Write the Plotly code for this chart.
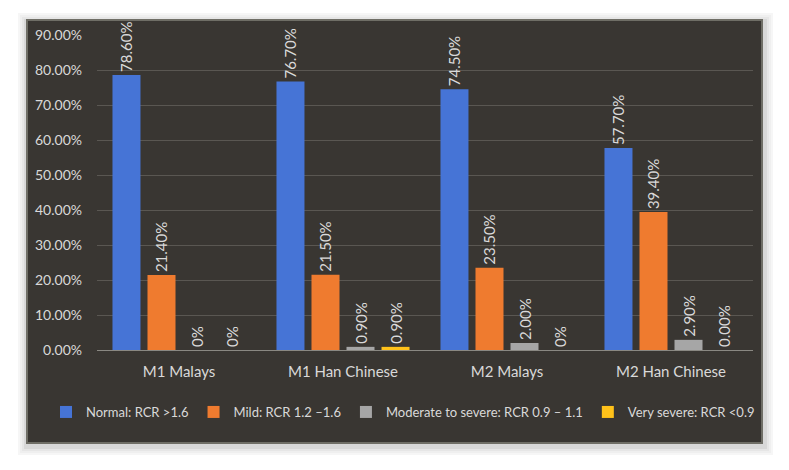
import plotly.graph_objects as go

categories = ["M1 Malays", "M1 Han Chinese", "M2 Malays", "M2 Han Chinese"]
series_names = ["Normal: RCR >1.6", "Mild: RCR 1.2 \u20131.6",
                "Moderate to severe: RCR 0.9 \u2013 1.1", "Very severe: RCR <0.9"]
normal = [0.786, 0.767, 0.745, 0.577]
mild = [0.214, 0.215, 0.235, 0.394]
moderate = [0.0, 0.009, 0.020, 0.029]
very_severe = [0.0, 0.009, 0.0, 0.0]
normal_labels = ["78.60%", "76.70%", "74.50%", "57.70%"]
mild_labels = ["21.40%", "21.50%", "23.50%", "39.40%"]
moderate_labels = ["0%", "0.90%", "2.00%", "2.90%"]
very_severe_labels = ["0%", "0.90%", "0%", "0.00%"]
colors = ["#4674d6", "#ef7b2f", "#a6a6a6", "#ffc21a"]
y_ticks = [0, 0.1, 0.2, 0.3, 0.4, 0.5, 0.6, 0.7, 0.8, 0.9]

FONT = "Lato"
TXT = "#d9d9d9"

fig = go.Figure()
for name, vals, labs, col in zip(series_names,
                                 [normal, mild, moderate, very_severe],
                                 [normal_labels, mild_labels, moderate_labels, very_severe_labels],
                                 colors):
    fig.add_trace(go.Bar(
        x=categories, y=vals, name=name, marker=dict(color=col, line=dict(width=0)),
        text=labs, textposition="outside", textangle=-90,
        textfont=dict(family=FONT, size=15, color=TXT),
        cliponaxis=False, constraintext="none",
    ))

shapes = []
# soft shadow layers
for i, (dx, c) in enumerate([(9, "#f6f6f6"), (7, "#efefef"), (5, "#e6e6e6"), (3, "#d8d8d8")]):
    shapes.append(dict(type="rect", xref="paper", yref="paper", layer="below",
                       x0=(27 - dx - 97) / 656, x1=(762 + dx + 2 - 97) / 656,
                       y0=(350 - 443 - dx - 3) / 315, y1=(350 - 20 + dx - 2) / 315,
                       fillcolor=c, line=dict(width=0)))
shapes.append(dict(type="rect", xref="paper", yref="paper", layer="below",
                   x0=(27 - 97) / 656, x1=(762 - 97) / 656,
                   y0=(350 - 443) / 315, y1=(350 - 20) / 315,
                   fillcolor="#393632", line=dict(color="#6f6e66", width=2)))

fig.update_layout(
    width=789, height=470,
    margin=dict(l=97, r=36, t=35, b=120, autoexpand=False),
    paper_bgcolor="white", plot_bgcolor="rgba(0,0,0,0)",
    barmode="group", bargap=0.146, bargroupgap=0.2,
    font=dict(family=FONT, size=14, color=TXT),
    shapes=shapes,
    showlegend=True,
    legend=dict(orientation="h", x=(46 - 97) / 656, xanchor="left",
                y=(350 - 412) / 315, yanchor="middle",
                font=dict(family=FONT, size=13, color=TXT), bgcolor="rgba(0,0,0,0)",
                itemwidth=30, tracegroupgap=0),
    xaxis=dict(showgrid=False, showline=True, linecolor="#8a8882", linewidth=1,
               tickfont=dict(family=FONT, size=15, color=TXT), ticks="", ticklabelstandoff=8),
    yaxis=dict(range=[0, 0.9], tickvals=y_ticks, tickformat=".2%",
               showgrid=True, gridcolor="#5a5752", gridwidth=1, zeroline=False,
               tickfont=dict(family=FONT, size=14, color=TXT), ticks="", ticklabelstandoff=14),
)

fig.write_html("out.html")
